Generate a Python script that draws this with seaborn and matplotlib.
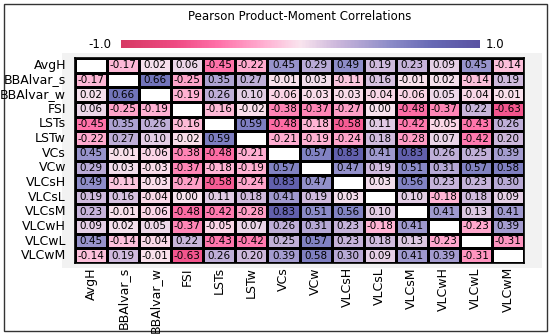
import numpy as np
import pandas as pd
import matplotlib
matplotlib.use("Agg")
import matplotlib.pyplot as plt
from matplotlib.colors import LinearSegmentedColormap, ListedColormap
from matplotlib.patches import Rectangle
import seaborn as sns

# variable names (rows / columns of the correlation matrix)
names = ["AvgH", "BBAlvar_s", "BBAlvar_w", "FSI", "LSTs", "LSTw", "VCs", "VCw",
         "VLCsH", "VLCsL", "VLCsM", "VLCwH", "VLCwL", "VLCwM"]

# upper triangle, row by row (diagonal left out)
r_avgh = [-0.17, 0.02, 0.06, -0.45, -0.22, 0.45, 0.29, 0.49, 0.19, 0.23, 0.09, 0.45, -0.14]
r_bbs = [0.66, -0.25, 0.35, 0.27, -0.01, 0.03, -0.11, 0.16, -0.01, 0.02, -0.14, 0.19]
r_bbw = [-0.19, 0.26, 0.10, -0.06, -0.03, -0.03, -0.04, -0.06, 0.05, -0.04, -0.01]
r_fsi = [-0.16, -0.02, -0.38, -0.37, -0.27, 0.00, -0.48, -0.37, 0.22, -0.63]
r_lsts = [0.59, -0.48, -0.18, -0.58, 0.11, -0.42, -0.05, -0.43, 0.26]
r_lstw = [-0.21, -0.19, -0.24, 0.18, -0.28, 0.07, -0.42, 0.20]
r_vcs = [0.57, 0.83, 0.41, 0.83, 0.26, 0.25, 0.39]
r_vcw = [0.47, 0.19, 0.51, 0.31, 0.57, 0.58]
r_vlcsh = [0.03, 0.56, 0.23, 0.23, 0.30]
r_vlcsl = [0.10, -0.18, 0.18, 0.09]
r_vlcsm = [0.41, 0.13, 0.41]
r_vlcwh = [-0.23, 0.39]
r_vlcwl = [-0.31]
upper_rows = [r_avgh, r_bbs, r_bbw, r_fsi, r_lsts, r_lstw, r_vcs, r_vcw,
              r_vlcsh, r_vlcsl, r_vlcsm, r_vlcwh, r_vlcwl]

n = len(names)
mat = np.eye(n)
for i, row in enumerate(upper_rows):
    for k, v in enumerate(row):
        j = i + 1 + k
        mat[i, j] = v
        mat[j, i] = v
corr = pd.DataFrame(mat, index=names, columns=names)

cmap = LinearSegmentedColormap.from_list("pm", [
    (0.0, "#d63a64"), (0.15, "#ee4a82"), (0.27, "#ff70a8"), (0.4, "#ffb0d2"),
    (0.5, "#f9e4ee"), (0.6, "#cdb8dc"), (0.75, "#8c8cc8"), (0.87, "#6668b4"),
    (1.0, "#5a52a2")])

plt.rcParams["font.family"] = ["DejaVu Sans"]

fig = plt.figure(figsize=(5.5, 3.35), dpi=100)
# outer frame and grey panel
fig.patches.append(Rectangle((3.5 / 550, 4 / 335), 543.5 / 550, 327 / 335, transform=fig.transFigure,
                             facecolor="white", edgecolor="#333333", lw=1.0, zorder=-2))
fig.patches.append(Rectangle((62 / 550, 1 - 268 / 335), 480 / 550, 215 / 335, transform=fig.transFigure,
                             facecolor="#f2f2f2", edgecolor="none", zorder=-1))

ax = fig.add_axes([75 / 550, 1 - 263 / 335, 449 / 550, 205 / 335])
cax = fig.add_axes([121 / 550, 1 - 48 / 335, 359 / 550, 8 / 335])

diag = np.eye(n, dtype=bool)
sns.heatmap(corr, mask=diag, cmap=cmap, vmin=-1, vmax=1, annot=True, fmt=".2f",
            annot_kws={"fontsize": 7.5, "color": "black"}, linewidths=1.0, linecolor="black",
            xticklabels=True, yticklabels=True,
            ax=ax, cbar_ax=cax, cbar_kws={"orientation": "horizontal"})
sns.heatmap(corr, mask=~diag, cmap=ListedColormap(["white"]), cbar=False,
            linewidths=1.0, linecolor="black", xticklabels=True, yticklabels=True, ax=ax)

ax.tick_params(axis="y", length=0, labelsize=9, pad=6.5)
ax.tick_params(axis="x", length=0, labelsize=9, pad=3)
ax.set_xticklabels(names, rotation=90)
ax.set_yticklabels(names, rotation=0)
ax.set_xlabel("")
ax.set_ylabel("")
for s in ax.spines.values():
    s.set_visible(True)
    s.set_color("black")
    s.set_linewidth(1.2)

cax.set_xticks([])
cax.set_yticks([])
for s in cax.spines.values():
    s.set_visible(False)

fig.text(300 / 550, 1 - 16 / 335, "Pearson Product-Moment Correlations", ha="center", va="center", fontsize=8.5)
fig.text(100 / 550, 1 - 44 / 335, "-1.0", ha="center", va="center", fontsize=8.5)
fig.text(495 / 550, 1 - 44 / 335, "1.0", ha="center", va="center", fontsize=8.5)

fig.savefig("out.png", dpi=100)
